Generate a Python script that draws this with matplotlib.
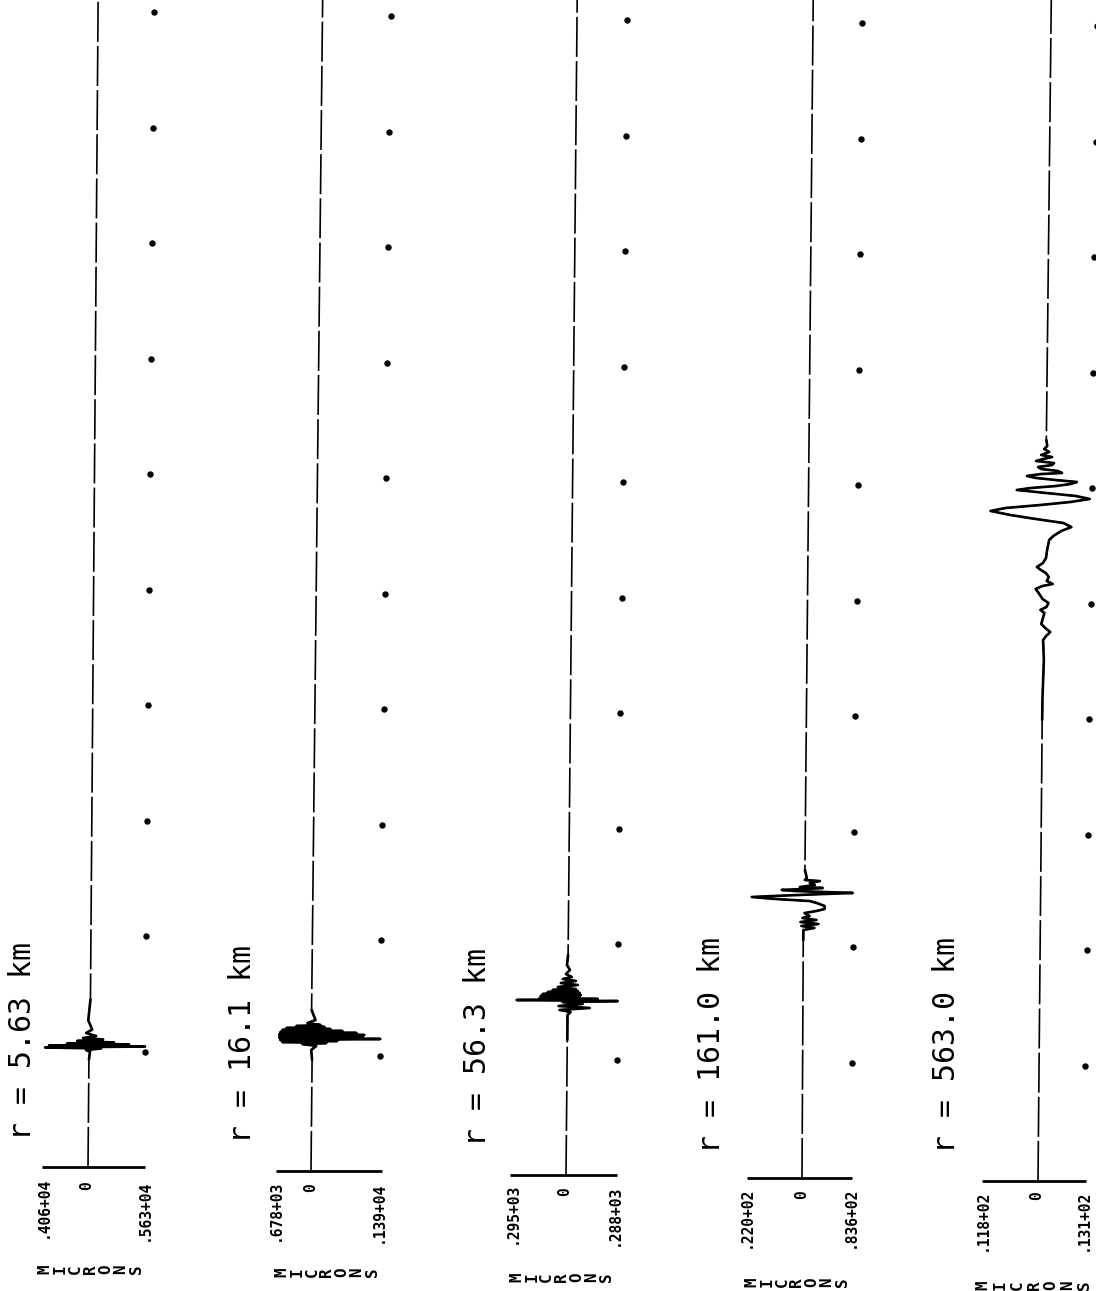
"""Five vertical seismogram traces (r = 5.63 ... 563 km) redrawn from a scanned plot.

Time runs upward from the amplitude axis; the dots are the timing marks.
Amplitudes are read off the scan in pixels of the original, times in mark units.
"""

import matplotlib

matplotlib.use("Agg")
import matplotlib.pyplot as plt
import numpy as np
from matplotlib.transforms import Affine2D

W_PX, H_PX, DPI = 1096, 1291, 100
PX_PER_MARK = 115.5  # vertical scan pixels between two timing dots
HALF = 130  # half width of each panel's axes, in pixels
MONO = "DejaVu Sans Mono"

LABELS = ["r = 5.63 km", "r = 16.1 km", "r = 56.3 km", "r = 161.0 km", "r = 563.0 km"]
LEFT_TICKS = [".406+04", ".678+03", ".295+03", ".220+02", ".118+02"]
RIGHT_TICKS = [".563+04", ".139+04", ".288+03", ".836+02", ".131+02"]
UNITS = "MICRONS"
MARK_TIMES = [1, 2, 3, 4, 5, 6, 7, 8, 9, 10]

# ends of the amplitude axis and column of timing dots (scan px from zero)
AXIS_LO = [-46, -35, -56, -55, -56]
AXIS_HI = [57, 71, 51, 50, 48]
DOT_AMP = [56, 68, 50, 49, 46]

# r = 5.63 km
T1 = [0, 0.93, 1.00, 1.013, 1.026, 1.035, 1.043, 1.052, 1.061, 1.069, 1.078,
      1.091, 1.104, 1.117, 1.134, 1.16, 1.19, 1.27, 1.45, 10.3]
A1 = [0, 0, 1, -3, 12, -44, 56, -40, 40, -22, 25,
      -12, 14, -6, 7, -3, 3, -1, 1, 0]

# r = 16.1 km
T2 = [0, 0.961, 1.048, 1.082, 1.100, 1.108, 1.117, 1.126, 1.134, 1.143, 1.152,
      1.160, 1.169, 1.177, 1.186, 1.195, 1.203, 1.212, 1.221, 1.229, 1.238,
      1.247, 1.255, 1.264, 1.281, 1.307, 1.394, 10.3]
A2 = [0, 0, -1, 4, -10, 14, -30, 25, -32, 68, -33,
      50, -33, 52, -33, 44, -32, 30, -30, 18, -26,
      12, -16, 8, -5, 3, -1, 0]

# r = 56.3 km
T3 = [0, 1.169, 1.385, 1.411, 1.429, 1.446, 1.463, 1.481, 1.498, 1.506, 1.515,
      1.524, 1.532, 1.541, 1.550, 1.558, 1.567, 1.576, 1.584, 1.593, 1.602,
      1.610, 1.628, 1.645, 1.662, 1.680, 1.697, 1.714, 1.740, 1.775, 1.818,
      1.905, 10.3]
A3 = [0, 0, 0, 3, -8, 22, -9, 15, -5, 50, -51,
      30, -28, 12, -27, 13, -25, 12, -20, 10, -15,
      8, -10, 10, -7, 8, -5, 4, -2, 2, -1,
      0, 0]

# r = 161.0 km
T4 = [0, 2.061, 2.147, 2.165, 2.182, 2.199, 2.216, 2.234, 2.251, 2.268, 2.294,
      2.312, 2.329, 2.355, 2.381, 2.398, 2.416, 2.433, 2.442, 2.459, 2.468,
      2.476, 2.485, 2.494, 2.502, 2.511, 2.519, 2.537, 2.554, 2.571, 2.580,
      2.597, 2.667, 10.3]
A4 = [0, -1, -1, 10, -3, 14, -4, 12, -2, 5, 0,
      12, 20, 20, 12, 5, -30, -53, -30, 20, 48,
      20, -10, -23, 0, 18, -5, 10, 5, 15, 0,
      2, 0, 0]

# r = 563.0 km
T5 = [0, 3.991, 4.165, 4.511, 4.684, 4.719, 4.753, 4.788, 4.823, 4.918, 4.944,
      4.970, 5.004, 5.039, 5.091, 5.126, 5.152, 5.169, 5.195, 5.229, 5.264,
      5.290, 5.316, 5.351, 5.394, 5.463, 5.550, 5.584, 5.628, 5.662, 5.697,
      5.732, 5.766, 5.801, 5.827, 5.853, 5.879, 5.905, 5.931, 5.957, 5.983,
      6.000, 6.017, 6.035, 6.052, 6.069, 6.087, 6.104, 6.121, 6.130, 6.147,
      6.165, 6.182, 6.199, 6.216, 6.234, 6.251, 6.268, 6.286, 6.312, 6.338,
      6.364, 6.416, 10.3]
A5 = [0, -1, -1, 0, -1, 2, 6, 1, -3, 0, -4,
      2, 4, -2, -6, -9, -2, 8, 2, 4, 1,
      -4, -8, -2, 1, 2, 4, 8, 16, 26, 18,
      -10, -35, -55, -40, -5, 25, 44, 30, 0, -29,
      -15, 10, 25, 31, 10, -10, -19, -5, 16, 12,
      -5, -8, 6, 8, -10, -3, 6, -5, 3, -2,
      1, 0, 0]

TRACES = [(T1, A1), (T2, A2), (T3, A3), (T4, A4), (T5, A5)]

# layout, in pixels of the scan
ZERO_PX = [88, 311, 566, 802, 1038]
BASE_PX = [1167, 1171, 1175, 1178, 1181]
SHEAR = [1.0, 1.15, 1.1, 1.1, 1.3]  # scan tilt: px of drift per timing mark
LABEL_AT = [(31, 1140), (251, 1143), (486, 1146), (720, 1153), (955, 1153)]
LEFT_AT = [(43, 1177), (275, 1180), (512, 1183), (746, 1187), (982, 1190)]
RIGHT_AT = [(144, 1180), (378, 1182), (614, 1185), (850, 1187), (1083, 1190)]
ZERO_AT = [(87, 1181), (311, 1183), (565, 1187), (802, 1190), (1037, 1191)]
UNITS_AT = [(45, 136, 1269), (282, 372, 1272), (517, 606, 1277),
            (752, 842, 1282), (983, 1085, 1285)]


def main() -> None:
    fig = plt.figure(figsize=(W_PX / DPI, H_PX / DPI), dpi=DPI)
    fig.patch.set_facecolor("white")

    for i, (t, a) in enumerate(TRACES):
        zero, base = ZERO_PX[i], BASE_PX[i]
        ax = fig.add_axes([(zero - HALF) / W_PX, 0, 2 * HALF / W_PX, 1])
        ax.set_xlim(-HALF, HALF)
        ax.set_ylim(-(H_PX - base) / PX_PER_MARK, base / PX_PER_MARK)
        ax.set_axis_off()

        def at(x_px, y_px):
            return x_px - zero, (base - y_px) / PX_PER_MARK

        tilt = Affine2D(np.array([[1.0, SHEAR[i], 0], [0, 1, 0], [0, 0, 1]])) + ax.transData
        # quiet trace: the scan shows it as a pen line with small breaks
        ax.plot(a, t, color="k", lw=1.2, ls=(0, (24, 2.5)), transform=tilt)
        ax.plot(a[1:-1], t[1:-1], color="k", lw=1.9, transform=tilt,
                solid_joinstyle="round", solid_capstyle="round")
        ax.plot([DOT_AMP[i]] * len(MARK_TIMES), MARK_TIMES, "o", ms=3.6,
                color="k", transform=tilt)
        ax.plot([AXIS_LO[i], AXIS_HI[i]], [0, 0], color="k", lw=2.0,
                solid_capstyle="butt")

        ax.text(*at(*LABEL_AT[i]), LABELS[i], rotation=90, rotation_mode="anchor",
                ha="left", va="baseline", fontsize=21.5, family=MONO)
        for pos, txt in ((LEFT_AT[i], LEFT_TICKS[i]), (RIGHT_AT[i], RIGHT_TICKS[i]),
                         (ZERO_AT[i], "0")):
            ax.text(*at(*pos), txt, rotation=90, ha="center", va="top",
                    fontsize=10.5, family=MONO, weight="bold")
        x0, x1, yc = UNITS_AT[i]
        for k, ch in enumerate(UNITS):
            xc = x0 + (x1 - x0) * k / (len(UNITS) - 1)
            ax.text(*at(xc, yc), ch, rotation=90, ha="center", va="center",
                    fontsize=11.5, family=MONO, weight="bold")

    fig.savefig("out.png", dpi=DPI, facecolor="white")


if __name__ == "__main__":
    main()
